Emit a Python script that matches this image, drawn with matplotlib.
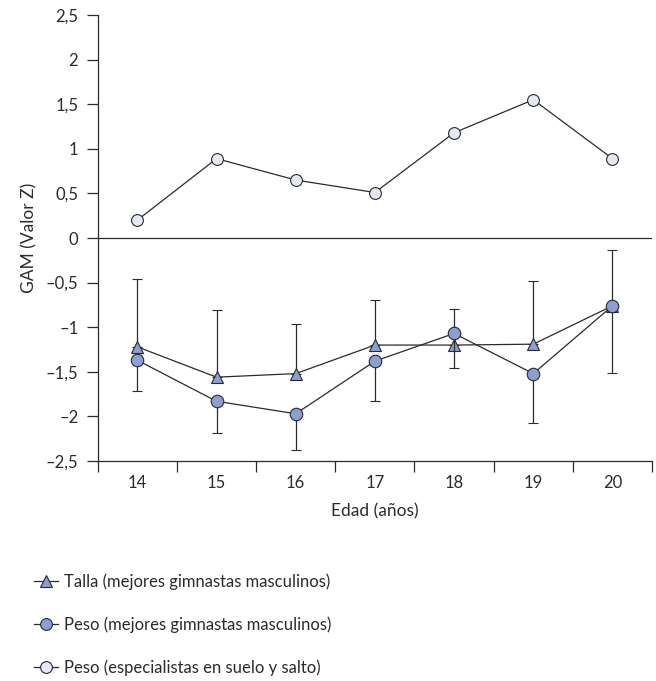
import numpy as np
import matplotlib
matplotlib.use("Agg")
import matplotlib.pyplot as plt
from matplotlib.lines import Line2D
from matplotlib.ticker import FixedLocator

plt.rcParams["font.family"] = ["Lato", "DejaVu Sans"]

ages = [14, 15, 16, 17, 18, 19, 20]

# Talla (mejores gimnastas masculinos): mean and upper end of bar
talla_mean = np.array([-1.22, -1.56, -1.52, -1.20, -1.20, -1.19, -0.76])
talla_top = np.array([-0.46, -0.81, -0.96, -0.69, -0.80, -0.48, -0.14])

# Peso (mejores gimnastas masculinos): mean and lower end of bar
peso_mean = np.array([-1.37, -1.83, -1.97, -1.38, -1.07, -1.52, -0.76])
peso_low = np.array([-1.71, -2.19, -2.38, -1.83, -1.46, -2.07, -1.51])

# Peso (especialistas en suelo y salto)
esp_mean = np.array([0.20, 0.89, 0.65, 0.51, 1.18, 1.55, 0.89])

labels = ["Talla (mejores gimnastas masculinos)",
          "Peso (mejores gimnastas masculinos)",
          "Peso (especialistas en suelo y salto)"]

yticks = [-2.5, -2, -1.5, -1, -0.5, 0, 0.5, 1, 1.5, 2, 2.5]
ytick_labels = ["\u20132,5", "\u20132", "\u20131,5", "\u20131", "\u20130,5",
                "0", "0,5", "1", "1,5", "2", "2,5"]

dark = "#2b2b2b"
blue = "#8c9fd3"
light = "#e4e7f4"
mk = dict(markeredgecolor=dark, markeredgewidth=0.8)

fig = plt.figure(figsize=(6.56, 6.81), dpi=100)
ax = fig.add_axes([0.149, 0.323, 0.845, 0.655])

ax.axhline(0, color=dark, lw=0.9, zorder=1)

ax.errorbar(ages, talla_mean, yerr=[np.zeros(7), talla_top - talla_mean],
            color=dark, lw=0.9, elinewidth=0.9, capsize=3.5, capthick=0.9,
            marker="^", markersize=9, markerfacecolor=blue, zorder=3, **mk)
ax.errorbar(ages, peso_mean, yerr=[peso_mean - peso_low, np.zeros(7)],
            color=dark, lw=0.9, elinewidth=0.9, capsize=3.5, capthick=0.9,
            marker="o", markersize=9, markerfacecolor=blue, zorder=4, **mk)
ax.plot(ages, esp_mean, color=dark, lw=0.9, marker="o", markersize=8.5,
        markerfacecolor=light, zorder=4, **mk)

ax.set_xlim(13.5, 20.5)
ax.set_ylim(-2.5, 2.5)
ax.set_yticks(yticks)
ax.set_yticklabels(ytick_labels)
ax.set_xticks(ages)
ax.set_xticklabels([str(a) for a in ages])
ax.xaxis.set_minor_locator(FixedLocator(np.arange(13.5, 21, 1)))
ax.tick_params(axis="x", which="major", length=0, pad=10, labelsize=12, colors=dark)
ax.tick_params(axis="x", which="minor", length=8, width=0.9, color=dark)
ax.tick_params(axis="y", length=8, width=0.9, pad=6, labelsize=12, colors=dark)

for s in ["top", "right"]:
    ax.spines[s].set_visible(False)
for s in ["left", "bottom"]:
    ax.spines[s].set_linewidth(0.9)
    ax.spines[s].set_color(dark)

ax.set_xlabel("Edad (a\u00f1os)", fontsize=12.5, color=dark, labelpad=9)
ax.set_ylabel("GAM (Valor Z)", fontsize=12.5, color=dark, labelpad=6)

handles = [
    Line2D([], [], color=dark, lw=0.9, marker="^", markersize=9, markerfacecolor=blue, **mk),
    Line2D([], [], color=dark, lw=0.9, marker="o", markersize=8.5, markerfacecolor=blue, **mk),
    Line2D([], [], color=dark, lw=0.9, marker="o", markersize=8.5, markerfacecolor=light, **mk),
]
fig.legend(handles, labels, loc="upper left", bbox_to_anchor=(0.042, 0.168),
           frameon=False, fontsize=12, labelspacing=1.6, handlelength=1.4,
           handletextpad=0.4, borderaxespad=0, labelcolor=dark)

fig.savefig("out.png", dpi=100)
